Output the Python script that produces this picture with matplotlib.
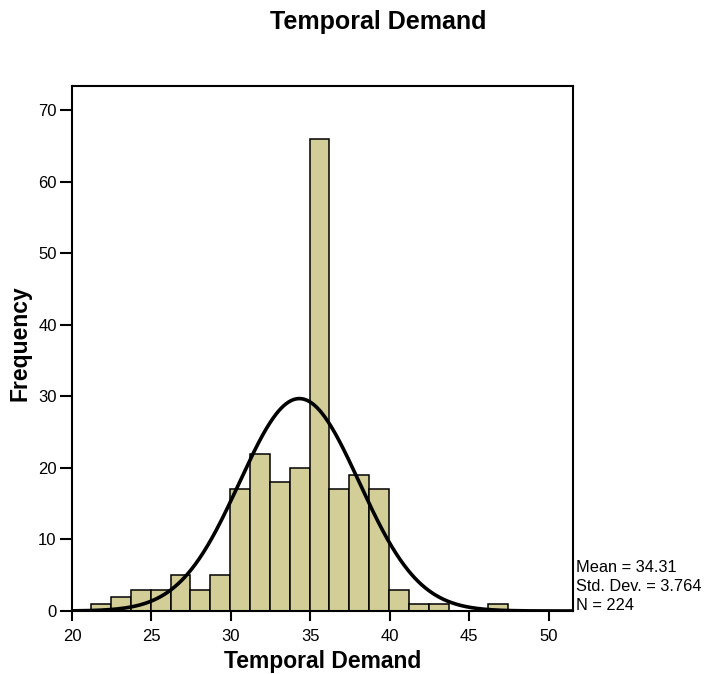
import numpy as np
import matplotlib
matplotlib.use("Agg")
import matplotlib.pyplot as plt

plt.rcParams['font.family'] = ['Liberation Sans', 'DejaVu Sans']

# Histogram bins (start, width) and counts per bin
bin_start = 21.2
bin_width = 1.25
counts = [1, 2, 3, 3, 5, 3, 5, 17, 22, 18, 20, 66, 17, 19, 17, 3, 1, 1, 0, 0, 1]

# Summary statistics
mean = 34.31
std = 3.764
n = 224

x_ticks = [20, 25, 30, 35, 40, 45, 50]
y_ticks = [0, 10, 20, 30, 40, 50, 60, 70]

fig = plt.figure(figsize=(7.06, 6.74), dpi=100)
ax = fig.add_axes([72 / 706, 63 / 674, 501 / 706, 525 / 674])

edges = bin_start + bin_width * np.arange(len(counts) + 1)
ax.bar(edges[:-1], counts, width=bin_width, align='edge',
       color='#D3CE98', edgecolor='black', linewidth=1.1, zorder=2)

xs = np.linspace(20, 51.53, 600)
pdf = np.exp(-0.5 * ((xs - mean) / std) ** 2) / (std * np.sqrt(2 * np.pi))
ax.plot(xs, n * bin_width * pdf, color='black', linewidth=2.6, zorder=3)

ax.set_xlim(20, 51.53)
ax.set_ylim(0, 73.35)
ax.set_xticks(x_ticks)
ax.set_yticks(y_ticks)
ax.tick_params(axis='y', direction='out', length=8.5, width=1.5,
               labelsize=12, right=False, pad=2.5)
ax.tick_params(axis='x', direction='out', length=7, width=1.5,
               labelsize=12, top=False, pad=6)
for sp in ax.spines.values():
    sp.set_linewidth(1.5)

ax.set_xlabel('Temporal Demand', fontsize=16.5, fontweight='bold', labelpad=4)
fig.text(20 / 706, (674 - 343) / 674, 'Frequency', fontsize=16.5,
         fontweight='bold', rotation=90, ha='center', va='center')

fig.text(378 / 706, 1 - 22 / 674, 'Temporal Demand', fontsize=18,
         fontweight='bold', ha='center', va='center')

stats = [f'Mean = {mean:.2f}', f'Std. Dev. = {std:.3f}', f'N = {n}']
for i, s in enumerate(stats):
    fig.text(576 / 706, 1 - (568 + 18.5 * i) / 674, s, fontsize=11.8,
             ha='left', va='center')

fig.savefig('out.png', dpi=100)
